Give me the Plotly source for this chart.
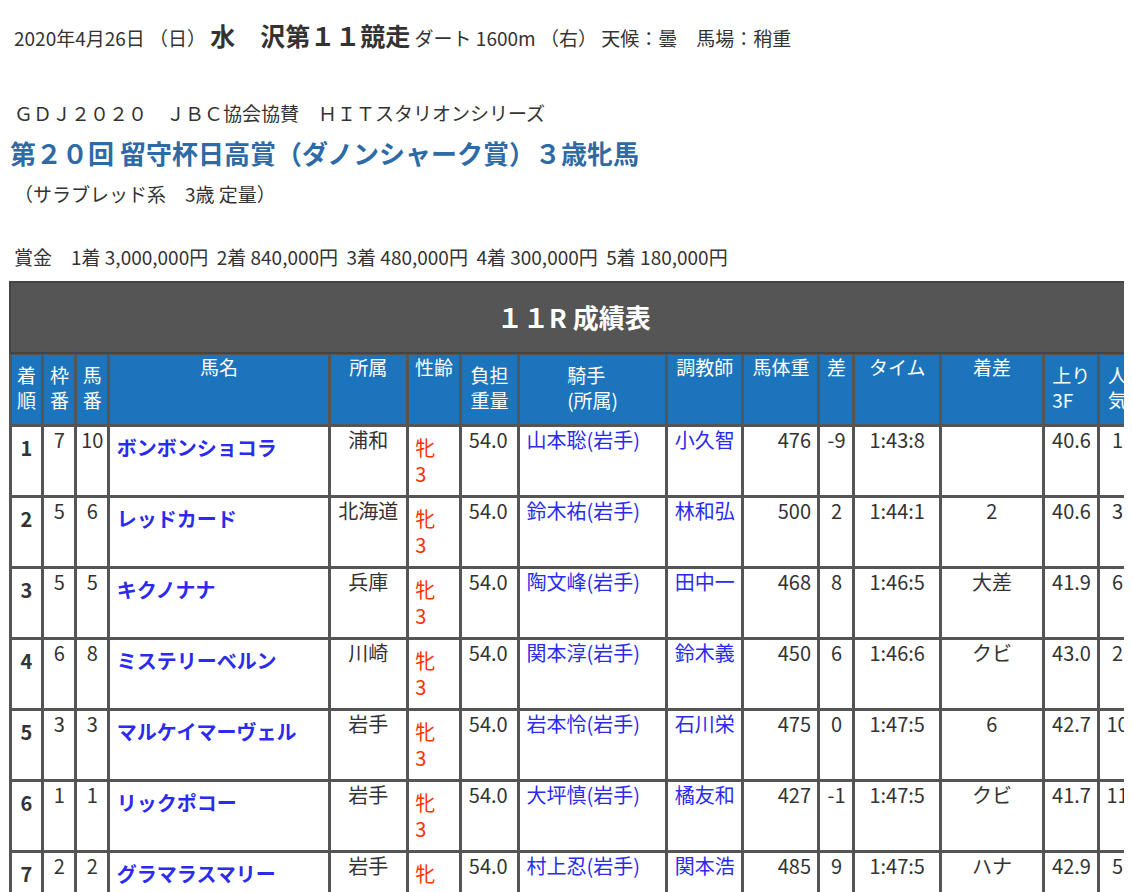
import plotly.graph_objects as go

W, H = 1132, 892

# data
rank = [str(i) for i in range(1, 13)]
waku = ["7", "5", "5", "6", "3", "1", "2", "7", "4", "8", "6", "8"]
umaban = ["10", "6", "5", "8", "3", "1", "2", "9", "4", "11", "7", "12"]
horse = ["ボンボンショコラ", "レッドカード", "キクノナナ", "ミステリーベルン", "マルケイマーヴェル",
         "リックポコー", "グラマラスマリー", "ボルドーリブロン", "チャルメーラ", "エイシンナーサリー",
         "オーゴンノカゼ", "アンズビジン"]
shozoku = ["浦和", "北海道", "兵庫", "川崎", "岩手", "岩手", "岩手", "岩手", "岩手", "岩手", "岩手", "岩手"]
seirei = ["牝 3"] * 12
kinryo = ["54.0"] * 12
jockey = ["山本聡(岩手)", "鈴木祐(岩手)", "陶文峰(岩手)", "関本淳(岩手)", "岩本怜(岩手)", "大坪慎(岩手)",
          "村上忍(岩手)", "菅原辰(岩手)", "高橋悠(岩手)", "木村暁(岩手)", "山本政(岩手)", "高松亮(岩手)"]
trainer = ["小久智", "林和弘", "田中一", "鈴木義", "石川栄", "橘友和", "関本浩", "板垣吉", "菅原勲",
           "橘友和", "齋藤雄", "佐藤雅"]
weight = ["476", "500", "468", "450", "475", "427", "485", "448", "485", "459", "424", "370"]
diff = ["-9", "2", "8", "6", "0", "-1", "9", "13", "7", "4", "8", "-8"]
time_ = ["1:43:8", "1:44:1", "1:46:5", "1:46:6", "1:47:5", "1:47:5", "1:47:5", "1:47:6", "1:48:6",
         "1:48:8", "1:49:3", "1:49:6"]
margin = ["", "2", "大差", "クビ", "6", "クビ", "ハナ", "クビ", "6", "1", "3", "１３／４"]
agari = ["40.6", "40.6", "41.9", "43.0", "42.7", "41.7", "42.9", "42.9", "43.0", "41.1", "44.4", "46.1"]
ninki = ["1", "3", "6", "2", "10", "11", "5", "8", "7", "12", "9", "4"]

headers = ["着<br>順", "枠<br>番", "馬<br>番", "馬名", "所属", "性齢", "負担<br>重量", "騎手<br>(所属)",
           "調教師", "馬体重", "差", "タイム", "着差", "上り<br>3F", "人<br>気"]

col_w = [32, 32, 32, 214, 76, 52, 56, 144, 74, 74, 34, 84, 100, 54, 36]
BLACK, BLUE, RED = "#333333", "#2b2bf0", "#ff3300"

columns = [["<b>%s</b>" % r for r in rank], waku, umaban, ["<b>%s</b>" % h for h in horse],
           shozoku, seirei, kinryo, jockey, trainer, weight, diff, time_, margin, agari, ninki]
colors = [BLACK, BLACK, BLACK, BLUE, BLACK, RED, BLACK, BLUE, BLUE, BLACK, BLACK, BLACK, BLACK, BLACK, BLACK]
aligns = ["center", "center", "center", "left", "center", "left", "left", "left", "left",
          "right", "center", "center", "center", "right", "center"]

FONT = "Noto Sans CJK JP"

fig = go.Figure(go.Table(
    domain=dict(x=[2 / W, 1128 / W], y=[1 - 887 / H, 1 - 345 / H]),
    columnwidth=col_w,
    header=dict(values=headers, fill_color="#1c75bc", height=72,
                font=dict(family=FONT, size=19, color="white"),
                line=dict(color="#555555", width=3), align="center"),
    cells=dict(values=columns, fill_color="white", height=39,
               font=dict(family=FONT, size=20, color=colors),
               line=dict(color="#555555", width=3), align=aligns),
))

# title bar of the table
fig.add_shape(type="rect", xref="paper", yref="paper", x0=2 / W, x1=1128 / W,
              y0=1 - 345 / H, y1=1 - 274 / H, fillcolor="#555555",
              line=dict(color="#444444", width=2))
fig.add_annotation(x=0.5, y=1 - 308 / H, xref="paper", yref="paper", showarrow=False,
                   text="<b>１１R 成績表</b>", font=dict(family=FONT, size=26, color="white"))

def txt(x, y, s, size, color="#333333", bold=False):
    fig.add_annotation(x=x / W, y=1 - y / H, xref="paper", yref="paper", xanchor="left",
                       yanchor="middle", showarrow=False, text="<b>%s</b>" % s if bold else s,
                       font=dict(family=FONT, size=size, color=color))

txt(4, 27, "2020年4月26日 （日） <b><span style='font-size:25px'>水　沢第１１競走</span></b> ダート 1600m （右） 天候：曇　馬場：稍重", 19)
txt(4, 105, "ＧＤＪ２０２０　ＪＢＣ協会協賛　ＨＩＴスタリオンシリーズ", 19)
txt(0, 144, "第２０回 留守杯日高賞（ダノンシャーク賞）３歳牝馬", 26, "#2e6aa5", bold=True)
txt(4, 185, "（サラブレッド系　3歳 定量）", 19)
txt(4, 248, "賞金　1着 3,000,000円  2着 840,000円  3着 480,000円  4着 300,000円  5着 180,000円", 19)

fig.update_layout(width=W, height=H, margin=dict(l=0, r=0, t=0, b=0),
                  paper_bgcolor="white", plot_bgcolor="white")
fig.write_html("out.html")
